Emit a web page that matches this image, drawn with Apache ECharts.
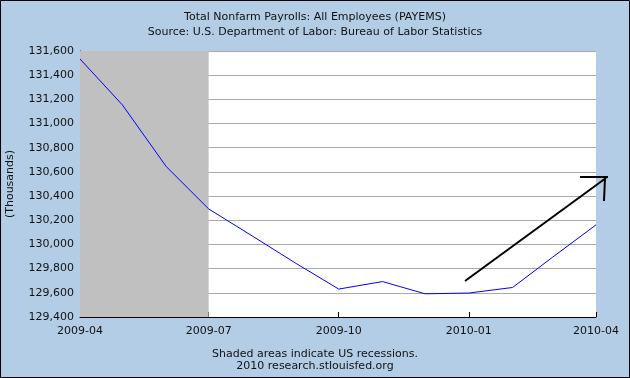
<!DOCTYPE html>
<html>
<head>
<meta charset="utf-8">
<script src="https://cdn.jsdelivr.net/npm/echarts@6/dist/echarts.min.js"></script>
<style>
  html, body { margin: 0; padding: 0; }
  #chart { width: 630px; height: 378px; }
</style>
</head>
<body>
<div id="chart"></div>
<script>
// monthly observations (thousands)
const months = ['2009-04-01', '2009-05-01', '2009-06-01', '2009-07-01', '2009-08-01', '2009-09-01',
  '2009-10-01', '2009-11-01', '2009-12-01', '2010-01-01', '2010-02-01', '2010-03-01', '2010-04-01'];
const payems = [131534, 131154, 130644, 130294, 130069, 129842,
  129631, 129693, 129592, 129598, 129644, 129892, 130162];
const tickDates = ['2009-04-01', '2009-07-01', '2009-10-01', '2010-01-01', '2010-04-01'];
const recession = ['2009-04-01', '2009-07-01'];

const font = 'DejaVu Sans';
const ts = d => Date.UTC(+d.slice(0, 4), +d.slice(5, 7) - 1, +d.slice(8, 10));
const fmtMonth = v => {
  let d = new Date(v);
  return d.getUTCFullYear() + '-' + String(d.getUTCMonth() + 1).padStart(2, '0');
};

let chart = echarts.init(document.getElementById('chart'));

let option = {
  backgroundColor: '#B4CDE6',
  animation: false,
  title: [
    {
      text: 'Total Nonfarm Payrolls: All Employees (PAYEMS)',
      subtext: 'Source: U.S. Department of Labor: Bureau of Labor Statistics',
      left: 'center',
      top: 6,
      itemGap: 2,
      textStyle: { fontFamily: font, fontSize: 11, fontWeight: 'normal', color: '#111', lineHeight: 13 },
      subtextStyle: { fontFamily: font, fontSize: 11, color: '#111', lineHeight: 13 }
    },
    {
      text: 'Shaded areas indicate US recessions.',
      subtext: '2010 research.stlouisfed.org',
      left: 'center',
      top: 343,
      itemGap: 0,
      textStyle: { fontFamily: font, fontSize: 11, fontWeight: 'normal', color: '#111', lineHeight: 12 },
      subtextStyle: { fontFamily: font, fontSize: 11, color: '#111', lineHeight: 12 }
    }
  ],
  grid: {
    left: 80, right: 34, top: 51, bottom: 61,
    outerBoundsMode: 'none',
    backgroundColor: '#fff', show: true, borderWidth: 0
  },
  xAxis: {
    type: 'value',
    min: ts('2009-04-01'),
    max: ts('2010-04-01'),
    axisLine: { lineStyle: { color: '#000', width: 1 } },
    axisTick: { inside: true, length: 5, lineStyle: { color: '#000' }, customValues: tickDates.map(ts) },
    axisLabel: {
      customValues: tickDates.map(ts),
      fontFamily: font, fontSize: 11, color: '#111', margin: 9,
      formatter: fmtMonth
    },
    splitLine: { show: false }
  },
  yAxis: {
    type: 'value',
    min: 129400,
    max: 131600,
    interval: 200,
    name: '(Thousands)',
    nameLocation: 'middle',
    nameGap: 64,
    nameTextStyle: { fontFamily: font, fontSize: 11, color: '#111' },
    axisLine: { show: true, lineStyle: { color: '#000', width: 1 } },
    axisTick: { show: true, inside: true, length: 5, lineStyle: { color: '#000' } },
    axisLabel: {
      fontFamily: font, fontSize: 11, color: '#111', margin: 6,
      formatter: v => v.toLocaleString('en-US')
    },
    splitLine: { lineStyle: { color: '#AAAAAA', width: 1 } }
  },
  series: [
    {
      type: 'line',
      data: months.map((m, i) => [ts(m), payems[i]]),
      symbol: 'none',
      lineStyle: { color: '#0000FF', width: 1 },
      markArea: {
        silent: true,
        itemStyle: { color: '#C0C0C0' },
        data: [[{ xAxis: ts(recession[0]) }, { xAxis: ts(recession[1]) }]]
      }
    }
  ],
  graphic: [
    {
      type: 'rect',
      shape: { x: 0.5, y: 0.5, width: 629, height: 377 },
      style: { fill: 'none', stroke: '#000', lineWidth: 1 },
      z: 100
    },
    // hand-drawn arrow annotation
    {
      type: 'polyline',
      shape: { points: [[465, 281], [606, 178]] },
      style: { stroke: '#000', lineWidth: 2, fill: 'none' },
      z: 100
    },
    {
      type: 'polyline',
      shape: { points: [[580, 177], [608, 177]] },
      style: { stroke: '#000', lineWidth: 2, fill: 'none' },
      z: 100
    },
    {
      type: 'polyline',
      shape: { points: [[605, 178], [604, 201]] },
      style: { stroke: '#000', lineWidth: 2, fill: 'none' },
      z: 100
    }
  ]
};
chart.setOption(option);
</script>
</body>
</html>
